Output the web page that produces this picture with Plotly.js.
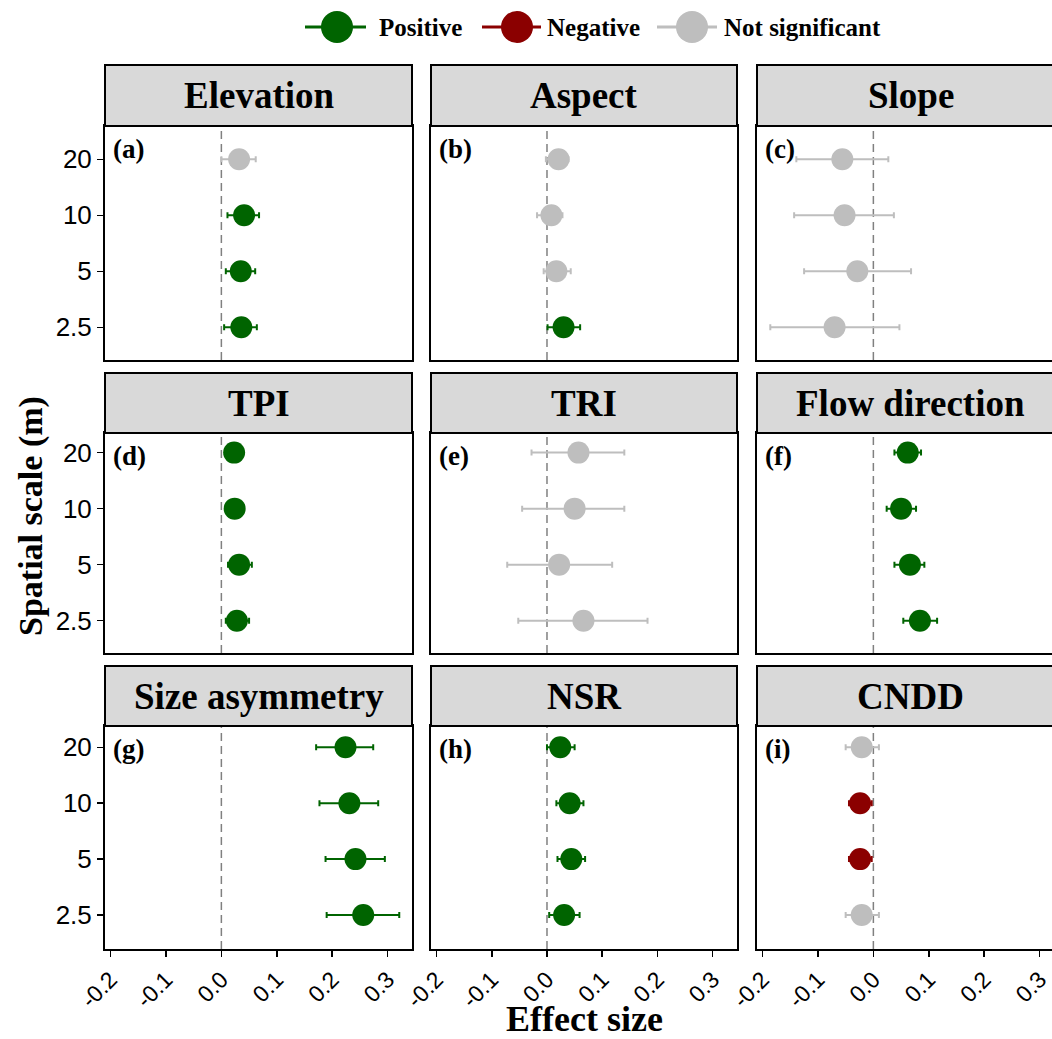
<!DOCTYPE html>
<html>
<head>
<meta charset="utf-8">
<script src="https://cdn.plot.ly/plotly-3.0.1.min.js"></script>
<style>
html, body { margin: 0; padding: 0; overflow: hidden; background: #fff; }
#chart { width: 1080px; height: 1039px; }
</style>
</head>
<body>
<div id="chart"></div>
<script>
// ---------- data ----------
const scales = ["2.5", "5", "10", "20"];
const panelTitles = ["Elevation", "Aspect", "Slope", "TPI", "TRI", "Flow direction", "Size asymmetry", "NSR", "CNDD"];
const panelTags = ["(a)", "(b)", "(c)", "(d)", "(e)", "(f)", "(g)", "(h)", "(i)"];
const xTickVals = [-0.2, -0.1, 0.0, 0.1, 0.2, 0.3];
const xTickText = ["-0.2", "-0.1", "0.0", "0.1", "0.2", "0.3"];
const legendLabels = ["Positive", "Negative", "Not significant"];

// values ordered as scales: 2.5, 5, 10, 20
const elevEst = [0.036, 0.035, 0.041, 0.032];
const elevLo  = [0.005, 0.008, 0.011, 0.000];
const elevHi  = [0.064, 0.061, 0.068, 0.062];
const elevSig = ["P", "P", "P", "S"];

const aspEst = [0.030, 0.017, 0.008, 0.021];
const aspLo  = [0.001, -0.006, -0.018, -0.002];
const aspHi  = [0.060, 0.043, 0.028, 0.039];
const aspSig = ["P", "S", "S", "S"];

const slopeEst = [-0.070, -0.029, -0.052, -0.056];
const slopeLo  = [-0.186, -0.125, -0.143, -0.139];
const slopeHi  = [0.047, 0.068, 0.037, 0.027];
const slopeSig = ["S", "S", "S", "S"];

const tpiEst = [0.028, 0.032, 0.024, 0.023];
const tpiLo  = [0.008, 0.012, 0.014, 0.013];
const tpiHi  = [0.050, 0.055, 0.034, 0.033];
const tpiSig = ["P", "P", "P", "P"];

const triEst = [0.066, 0.022, 0.050, 0.057];
const triLo  = [-0.052, -0.072, -0.045, -0.028];
const triHi  = [0.182, 0.118, 0.140, 0.140];
const triSig = ["S", "S", "S", "S"];

const flowEst = [0.084, 0.066, 0.050, 0.062];
const flowLo  = [0.054, 0.038, 0.024, 0.038];
const flowHi  = [0.115, 0.092, 0.077, 0.086];
const flowSig = ["P", "P", "P", "P"];

const sizeEst = [0.256, 0.242, 0.231, 0.224];
const sizeLo  = [0.190, 0.188, 0.177, 0.171];
const sizeHi  = [0.321, 0.295, 0.283, 0.274];
const sizeSig = ["P", "P", "P", "P"];

const nsrEst = [0.031, 0.044, 0.041, 0.024];
const nsrLo  = [0.004, 0.019, 0.017, 0.000];
const nsrHi  = [0.059, 0.069, 0.066, 0.050];
const nsrSig = ["P", "P", "P", "P"];

const cnddEst = [-0.021, -0.024, -0.024, -0.021];
const cnddLo  = [-0.050, -0.044, -0.044, -0.050];
const cnddHi  = [0.010, -0.003, -0.003, 0.010];
const cnddSig = ["S", "N", "N", "S"];

// ---------- build ----------
const panels = [
  [elevEst, elevLo, elevHi, elevSig],
  [aspEst, aspLo, aspHi, aspSig],
  [slopeEst, slopeLo, slopeHi, slopeSig],
  [tpiEst, tpiLo, tpiHi, tpiSig],
  [triEst, triLo, triHi, triSig],
  [flowEst, flowLo, flowHi, flowSig],
  [sizeEst, sizeLo, sizeHi, sizeSig],
  [nsrEst, nsrLo, nsrHi, nsrSig],
  [cnddEst, cnddLo, cnddHi, cnddSig]
];
const sigColor = { P: "#006400", N: "#8b0000", S: "#bebebe" };
const sigOrder = ["S", "P", "N"];

const W = 1080, H = 1039;
const px = v => v / W;
const py = v => 1 - v / H;

const colX = [[105, 412], [431, 737], [757, 1064]];
const rowStrip = [[65, 126], [373, 433], [666, 726]];
const rowPanel = [[126, 360], [433, 653], [726, 949]];
const rowYRange = [[-0.584, 3.595], [-0.577, 3.35], [-0.607, 3.38]];
const xRange = [-0.21, 0.344];

const serif = "Liberation Serif, Times New Roman, serif";
const sans = "Liberation Sans, Arial, sans-serif";

const traces = [];
const layout = {
  width: W, height: H,
  margin: { l: 0, r: 0, t: 0, b: 0 },
  paper_bgcolor: "#ffffff",
  plot_bgcolor: "#ffffff",
  showlegend: false,
  shapes: [],
  annotations: []
};

panels.forEach((p, i) => {
  const [est, lo, hi, sig] = p;
  const r = Math.floor(i / 3), c = i % 3;
  const n = i + 1;
  const xa = n === 1 ? "x" : "x" + n;
  const ya = n === 1 ? "y" : "y" + n;
  const xKey = n === 1 ? "xaxis" : "xaxis" + n;
  const yKey = n === 1 ? "yaxis" : "yaxis" + n;

  sigOrder.forEach(s => {
    const idx = sig.map((v, k) => v === s ? k : -1).filter(k => k >= 0);
    if (!idx.length) return;
    traces.push({
      type: "scatter", mode: "markers",
      x: idx.map(k => est[k]),
      y: idx.map(k => scales[k]),
      xaxis: xa, yaxis: ya,
      marker: { color: sigColor[s], size: 22, line: { width: 0 } },
      error_x: {
        type: "data", symmetric: false,
        array: idx.map(k => hi[k] - est[k]),
        arrayminus: idx.map(k => est[k] - lo[k]),
        color: sigColor[s], thickness: 2, width: 3
      },
      hoverinfo: "x+y"
    });
  });

  const bottom = r === 2, left = c === 0;
  layout[xKey] = {
    domain: [px(colX[c][0]), px(colX[c][1])],
    anchor: ya, range: xRange,
    tickmode: "array", tickvals: xTickVals, ticktext: xTickText,
    showticklabels: bottom, ticks: bottom ? "outside" : "",
    ticklen: 6, tickwidth: 1.5, tickcolor: "#000",
    tickangle: -45,
    tickfont: { family: sans, size: 23, color: "#000" },
    showgrid: false, zeroline: false,
    showline: true, mirror: true, linecolor: "#000", linewidth: 2
  };
  layout[yKey] = {
    domain: [py(rowPanel[r][1]), py(rowPanel[r][0])],
    anchor: xa, type: "category",
    categoryorder: "array", categoryarray: scales,
    range: rowYRange[r],
    showticklabels: left, ticks: left ? "outside" : "",
    ticklen: 6, tickwidth: 1.5, tickcolor: "#000",
    tickfont: { family: sans, size: 26, color: "#000" },
    showgrid: false, zeroline: false,
    showline: true, mirror: true, linecolor: "#000", linewidth: 2
  };

  // zero reference line
  layout.shapes.push({
    type: "line", xref: xa, yref: ya + " domain",
    x0: 0, x1: 0, y0: 0, y1: 1,
    line: { color: "#808080", width: 1.5, dash: "8px,5px" },
    layer: "below"
  });
  // strip
  layout.shapes.push({
    type: "rect", xref: "paper", yref: "paper",
    x0: px(colX[c][0]), x1: px(colX[c][1]),
    y0: py(rowStrip[r][1]), y1: py(rowStrip[r][0]),
    fillcolor: "#d9d9d9", line: { color: "#000", width: 2 }
  });
  layout.annotations.push({
    xref: "paper", yref: "paper",
    x: px((colX[c][0] + colX[c][1]) / 2), y: py((rowStrip[r][0] + rowStrip[r][1]) / 2),
    xanchor: "center", yanchor: "middle", showarrow: false,
    text: "<b>" + panelTitles[i] + "</b>",
    font: { family: serif, size: 37, color: "#000" }
  });
  // panel tag
  layout.annotations.push({
    xref: "paper", yref: "paper",
    x: px(colX[c][0] + 6), y: py(rowPanel[r][0] + 23),
    xanchor: "left", yanchor: "middle", showarrow: false,
    text: "<b>" + panelTags[i] + "</b>",
    font: { family: serif, size: 27, color: "#000" }
  });
});

// axis titles
layout.annotations.push({
  xref: "paper", yref: "paper", x: px(584), y: py(1019),
  xanchor: "center", yanchor: "middle", showarrow: false,
  text: "<b>Effect size</b>", font: { family: serif, size: 36, color: "#000" }
});
layout.annotations.push({
  xref: "paper", yref: "paper", x: px(31), y: py(516),
  xanchor: "center", yanchor: "middle", showarrow: false, textangle: -90,
  text: "<b>Spatial scale (m)</b>", font: { family: serif, size: 34, color: "#000" }
});

// legend (drawn manually)
const legColors = [sigColor.P, sigColor.N, sigColor.S];
const legLine = [[305, 366], [482, 541], [657, 717]];
const legCx = [337, 517, 692];
const legTextX = [377, 545, 722];
const legY = 27, legR = 16;
legendLabels.forEach((lab, k) => {
  layout.shapes.push({
    type: "line", xref: "paper", yref: "paper",
    x0: px(legLine[k][0]), x1: px(legLine[k][1]), y0: py(legY), y1: py(legY),
    line: { color: legColors[k], width: 3 }
  });
  layout.shapes.push({
    type: "circle", xref: "paper", yref: "paper",
    x0: px(legCx[k] - legR), x1: px(legCx[k] + legR),
    y0: py(legY + legR), y1: py(legY - legR),
    fillcolor: legColors[k], line: { width: 0 }
  });
  layout.annotations.push({
    xref: "paper", yref: "paper", x: px(legTextX[k]), y: py(legY),
    xanchor: "left", yanchor: "middle", showarrow: false,
    text: "<b>" + lab + "</b>", font: { family: serif, size: 25, color: "#000" }
  });
});

Plotly.newPlot("chart", traces, layout, { displayModeBar: false, staticPlot: true });
</script>
</body>
</html>
